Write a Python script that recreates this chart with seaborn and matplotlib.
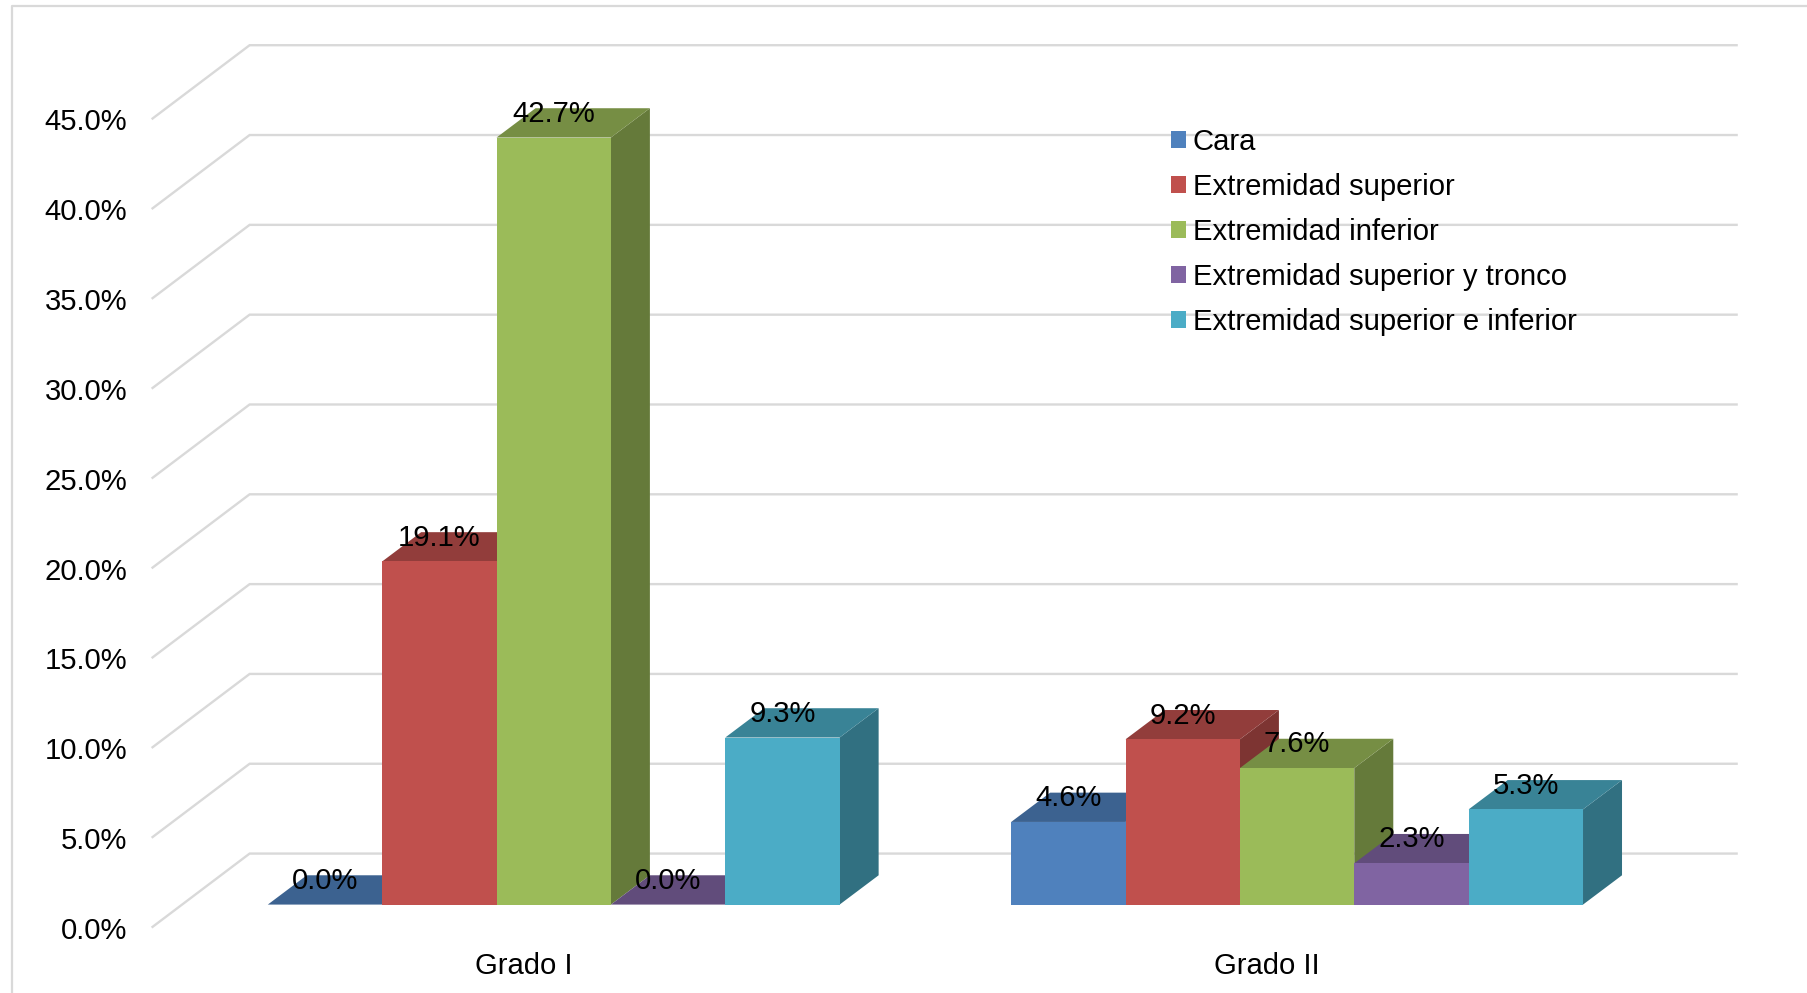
import matplotlib
matplotlib.use("Agg")
import matplotlib.pyplot as plt
import pandas as pd
import seaborn as sns
from matplotlib.lines import Line2D
from matplotlib.patches import Polygon

# Chart data (percent of cases)
grados = ["Grado I", "Grado II"]
zonas = [
    "Cara",
    "Extremidad superior",
    "Extremidad inferior",
    "Extremidad superior y tronco",
    "Extremidad superior e inferior",
]
cara = [0.0, 4.6]
ext_superior = [19.1, 9.2]
ext_inferior = [42.7, 7.6]
ext_sup_tronco = [0.0, 2.3]
ext_sup_inf = [9.3, 5.3]
ticks = [0, 5, 10, 15, 20, 25, 30, 35, 40, 45]
colores = ["#4F81BD", "#C0504D", "#9BBB59", "#8064A2", "#4BACC6"]

W, H = 1807, 993
FONT = 21.1
GRID = "#D9D9D9"

# Scales of the plane that holds the front faces of the columns (pixels)
PX_CAT = 743.3      # one category
PX_PCT = 17.96      # one percentage point
X0_PX = 182.0       # left edge of the first category
Y0_PX = 904.6       # zero line

filas = []
for zona, serie in zip(zonas, [cara, ext_superior, ext_inferior, ext_sup_tronco, ext_sup_inf]):
    for grado, valor in zip(grados, serie):
        filas.append({"Grado": grado, "Zona": zona, "Valor": valor})
df = pd.DataFrame(filas)

sns.set_theme(style="white")
plt.rcParams["font.family"] = ["Liberation Sans", "DejaVu Sans"]

fig = plt.figure(figsize=((W + 0.2) / 100, (H + 0.2) / 100), dpi=100, facecolor="white")
ax = fig.add_axes([0, 0, 1, 1])

sns.barplot(
    data=df, x="Grado", y="Valor", hue="Zona", hue_order=zonas, order=grados,
    palette=colores, saturation=1, width=5 / 6.5, gap=0, linewidth=0,
    errorbar=None, ax=ax,
)

ax.set_xlim(-0.5 - X0_PX / PX_CAT, -0.5 + (W - X0_PX) / PX_CAT)
ax.set_ylim((Y0_PX - H) / PX_PCT, Y0_PX / PX_PCT)
ax.set_axis_off()


def dx(px):
    return px / PX_CAT


def dy(px):
    return px / PX_PCT


# Back wall gridlines and their slanted side-wall continuation
x_izq = -0.5
for t in ticks:
    ax.plot(
        [x_izq - dx(30.4), x_izq + dx(67.6), x_izq + dx(1555.6)],
        [t - dy(23), t + dy(51), t + dy(51)],
        color=GRID, lw=1.7, solid_joinstyle="miter", solid_capstyle="butt", zorder=1,
    )
    ax.text(x_izq - dx(54.6), t - dy(23), f"{t:.1f}%", ha="right", va="center_baseline",
            fontsize=FONT, color="black", zorder=20)

# Category names sit on the front edge of the floor
for i, grado in enumerate(grados):
    ax.text(i - dx(30.0), -dy(58), grado, ha="center", va="center_baseline",
            fontsize=FONT, color="black", zorder=20)


def oscurecer(color, factor):
    r, g, b = matplotlib.colors.to_rgb(color)
    return (r * factor, g * factor, b * factor)


# Depth faces of every column, built from the bars seaborn has drawn
PROF_X, PROF_Y = dx(39), dy(29.3)
for s, (cont, color) in enumerate(zip(ax.containers, colores)):
    z = 3 + s
    for barra in cont:
        x1 = barra.get_x()
        x2 = x1 + barra.get_width()
        v = barra.get_height()
        barra.set_zorder(z + 0.5)
        barra.set_edgecolor("none")
        ax.add_patch(Polygon(
            [(x2, 0), (x2 + PROF_X, PROF_Y), (x2 + PROF_X, v + PROF_Y), (x2, v)],
            closed=True, facecolor=oscurecer(color, 0.65), edgecolor="none", zorder=z,
        ))
        ax.add_patch(Polygon(
            [(x1, v), (x2, v), (x2 + PROF_X, v + PROF_Y), (x1 + PROF_X, v + PROF_Y)],
            closed=True, facecolor=oscurecer(color, 0.76), edgecolor="none", zorder=z + 0.2,
        ))
        ax.text((x1 + x2) / 2, v + dy(27), f"{v:.1f}%", ha="center", va="center_baseline",
                fontsize=FONT, color="black", zorder=20)

# Outer frame of the chart area: only its top and left edges fall inside the image
fig.add_artist(Line2D([12 / W, 12 / W, 1], [0, 1 - 6 / H, 1 - 6 / H], color=GRID, lw=1.6))

handles, labels = ax.get_legend_handles_labels()
ax.legend(
    handles, labels, loc="upper left", bbox_to_anchor=(1171 / W, 1 - 128 / H),
    bbox_transform=fig.transFigure, frameon=False, fontsize=FONT, title=None,
    labelcolor="black", handlelength=0.512, handleheight=0.512, handletextpad=0.22,
    labelspacing=0.58, borderpad=0, borderaxespad=0,
).set_zorder(15)

fig.savefig("out.png", dpi=100, facecolor="white")
